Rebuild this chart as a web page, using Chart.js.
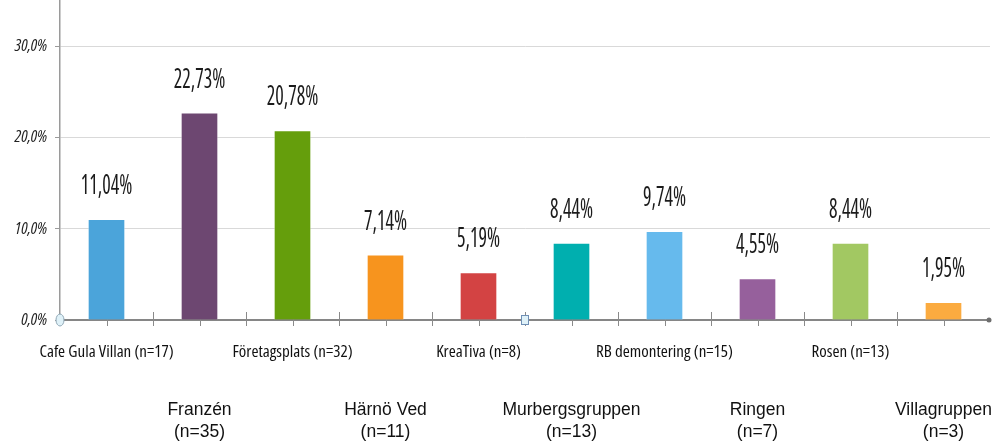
<!DOCTYPE html>
<html>
<head>
<meta charset="utf-8">
<script src="https://cdn.jsdelivr.net/npm/chart.js@4.4.0/dist/chart.umd.min.js"></script>
<style>
    html, body { margin: 0; padding: 0; background: #fff; }
    #wrap { width: 992px; height: 444px; position: relative; }
</style>
</head>
<body>
<div id="wrap"><canvas id="chart"></canvas></div>
<script>
const groups = ['Cafe Gula Villan', 'Franzén', 'Företagsplats', 'Härnö Ved', 'KreaTiva',
    'Murbergsgruppen', 'RB demontering', 'Ringen', 'Rosen', 'Villagruppen'];
const counts = [17, 35, 32, 11, 8, 13, 15, 7, 13, 3];
const shares = [11.04, 22.73, 20.78, 7.14, 5.19, 8.44, 9.74, 4.55, 8.44, 1.95];
const yTicks = [0, 10, 20, 30];
const barColors = ['#4ba4da', '#6d4771', '#659e0c', '#f7941e', '#d34343',
    '#00afaf', '#66baed', '#96609c', '#a2c862', '#fbab40'];

// condensed faces (the 'weight' slot is used to pass font-stretch through)
const calibriLike = "'Open Sans', sans-serif";
const arialLike = "'Liberation Sans', Arial, sans-serif";

function pct(v, d) {
    return v.toFixed(d).replace('.', ',') + '%';
}

// tick marks across the x axis plus the little excel handles
const axisMarks = {
    id: 'axisMarks',
    beforeDatasetsDraw(chart) {
        const x = chart.scales.x, y = chart.scales.y;
        const ctx = chart.ctx;
        const y0 = y.getPixelForValue(0);
        const step = (x.right - x.left) / groups.length / 2;
        ctx.save();
        ctx.strokeStyle = '#8a8a8a';
        ctx.lineWidth = 1;
        for (let i = 1; i < groups.length * 2; i++) {
            const px = Math.round(x.left + i * step) + 0.5;
            ctx.beginPath();
            ctx.moveTo(px, y0 - 8);
            ctx.lineTo(px, y0 + 6);
            ctx.stroke();
        }
        ctx.restore();
    },
    afterDraw(chart) {
        const x = chart.scales.x, y = chart.scales.y;
        const ctx = chart.ctx;
        const y0 = y.getPixelForValue(0);
        ctx.save();
        ctx.fillStyle = '#6e6e6e';
        ctx.beginPath();
        ctx.arc(x.right - 1, y0, 2.5, 0, Math.PI * 2);
        ctx.fill();
        ctx.fillStyle = '#dff1f8';
        ctx.strokeStyle = '#8fa7b5';
        ctx.lineWidth = 1;
        ctx.beginPath();
        ctx.ellipse(x.left, y0, 4, 6, 0, 0, Math.PI * 2);
        ctx.fill();
        ctx.stroke();
        const mid = Math.round((x.left + x.right) / 2);
        ctx.fillRect(mid - 3.5, y0 - 4.5, 7, 9);
        ctx.strokeStyle = '#6f8fb5';
        ctx.strokeRect(mid - 3.5, y0 - 4.5, 7, 9);
        ctx.restore();
    }
};

// tall narrow percent labels above each bar
const valueLabels = {
    id: 'valueLabels',
    afterDatasetsDraw(chart) {
        const ctx = chart.ctx;
        const meta = chart.getDatasetMeta(0);
        const squeeze = 0.74;
        meta.data.forEach((bar, i) => {
            ctx.save();
            ctx.translate(bar.x, bar.y - 33);
            ctx.scale(squeeze, 1);
            ctx.font = 'condensed 27px ' + calibriLike;
            ctx.fillStyle = '#1b1b1b';
            ctx.textAlign = 'center';
            ctx.textBaseline = 'middle';
            ctx.fillText(pct(shares[i], 2), 0, 0);
            ctx.restore();
        });
    }
};

new Chart(document.getElementById('chart'), {
    type: 'bar',
    data: {
        labels: groups,
        datasets: [{
            data: shares,
            backgroundColor: barColors,
            borderColor: 'rgba(255,255,255,0.35)',
            borderWidth: 1,
            barThickness: 37
        }]
    },
    options: {
        responsive: true,
        maintainAspectRatio: false,
        animation: false,
        layout: { padding: { top: 1, right: 2, bottom: 0, left: 0 } },
        plugins: {
            legend: { display: false },
            tooltip: { enabled: false }
        },
        scales: {
            x: {
                grid: { display: false, drawTicks: false },
                border: { color: '#868686', width: 2 },
                afterFit: function (scale) {
                    scale.height = 124;
                    scale.paddingLeft = 0;
                    scale.paddingRight = 0;
                },
                ticks: {
                    autoSkip: false,
                    maxRotation: 0,
                    minRotation: 0,
                    padding: 13,
                    color: '#111',
                    callback: function (v, i) {
                        const name = groups[i];
                        const n = '(n=' + counts[i] + ')';
                        if (i % 2 === 0) return [name + ' ' + n];
                        return ['', '', '', name, n];
                    },
                    font: function (ctx) {
                        if (ctx.index % 2 === 0) {
                            return { family: calibriLike, weight: 'condensed', size: 17, lineHeight: '38px' };
                        }
                        return { family: arialLike, size: 17.5, lineHeight: '22px' };
                    }
                }
            },
            y: {
                min: 0,
                max: 35,
                afterBuildTicks: function (scale) {
                    scale.ticks = yTicks.map(v => ({ value: v }));
                },
                afterFit: function (scale) {
                    scale.width = 60;
                    scale.paddingTop = 0;
                    scale.paddingBottom = 0;
                },
                grid: {
                    color: '#d9d9d9',
                    lineWidth: 1,
                    tickLength: 5,
                    tickColor: '#9a9a9a'
                },
                border: { color: '#9a9a9a', width: 1.5 },
                ticks: {
                    padding: 8,
                    color: '#222',
                    font: { family: calibriLike, style: 'italic', weight: 'condensed', size: 16.5 },
                    callback: v => pct(v, 1)
                }
            }
        }
    },
    plugins: [axisMarks, valueLabels]
});
</script>
</body>
</html>
